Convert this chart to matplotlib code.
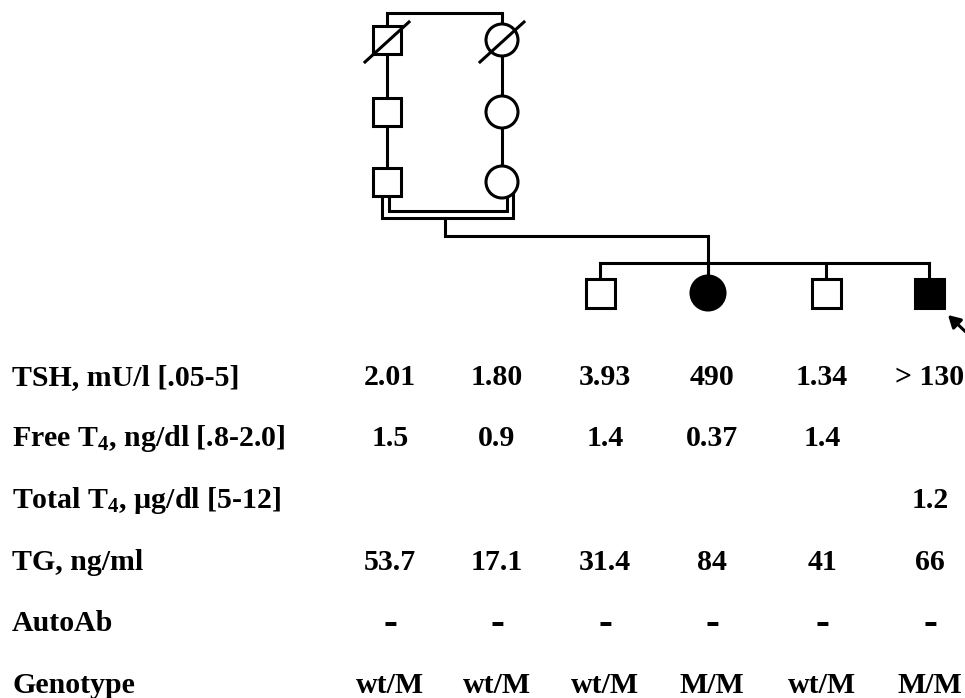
import matplotlib
matplotlib.use("Agg")
import matplotlib.pyplot as plt
from matplotlib.patches import Rectangle, Circle

plt.rcParams['font.family'] = 'Liberation Serif'
plt.rcParams['font.weight'] = 'bold'
plt.rcParams['mathtext.fontset'] = 'custom'
plt.rcParams['mathtext.rm'] = 'Liberation Serif:bold'
plt.rcParams['mathtext.it'] = 'Liberation Serif:bold:italic'
plt.rcParams['mathtext.bf'] = 'Liberation Serif:bold'

''' DATOS '''
row_labels = ["TSH, mU/l [.05-5]",
              "Free T$_4$, ng/dl [.8-2.0]",
              "Total T$_4$, \u00b5g/dl [5-12]",
              "TG, ng/ml",
              "AutoAb",
              "Genotype"]
tsh = ["2.01", "1.80", "3.93", "490", "1.34", "> 130"]
free_t4 = ["1.5", "0.9", "1.4", "0.37", "1.4", ""]
total_t4 = ["", "", "", "", "", "1.2"]
tg = ["53.7", "17.1", "31.4", "84", "41", "66"]
autoab = ["-", "-", "-", "-", "-", "-"]
genotype = ["wt/M", "wt/M", "wt/M", "M/M", "wt/M", "M/M"]
filas = [tsh, free_t4, total_t4, tg, autoab, genotype]

# Pedigree: two ancestral lines (male / female), three generations each
linea_sexo = ["m", "f"]
linea_fallecido = [True, False, False]
# Children of the consanguineous couple
hijos_sexo = ["m", "f", "m", "m"]
hijos_afectado = [False, True, False, True]
caso_indice = 3

''' LAYOUT (pixels) '''
W, H = 965, 698
col_x = [390, 497, 605, 712, 822, 930]
fila_y = [385, 446, 508, 570, 631, 693]
label_x = 12
fs = 21.5
lw = 2.2

linea_x = [387, 502]
gen_y = [40, 112, 182]
hijos_x = [600, 708, 826, 929]
hijos_y = 293
sq = 28
rad = 16

fig = plt.figure(figsize=(W / 100, H / 100), dpi=100)
ax = fig.add_axes([0, 0, 1, 1])
ax.set_xlim(0, W)
ax.set_ylim(H, 0)
ax.axis("off")


def individuo(x, y, sexo, afectado=False, fallecido=False, size=sq, r=rad):
    color = "black" if afectado else "white"
    if sexo == "m":
        p = Rectangle((x - size / 2, y - size / 2), size, size,
                      facecolor=color, edgecolor="black", lw=lw, zorder=3)
    else:
        p = Circle((x, y), r, facecolor=color, edgecolor="black", lw=lw, zorder=3)
    ax.add_patch(p)
    if fallecido:
        ax.plot([x - 22, x + 22], [y + 22, y - 18], color="black", lw=lw, zorder=4)


def linea(xs, ys):
    ax.plot(xs, ys, color="black", lw=lw, zorder=2, solid_capstyle="projecting",
            solid_joinstyle="miter")


# Ancestral lines
linea([linea_x[0], linea_x[0], linea_x[1], linea_x[1]], [gen_y[0], 13, 13, gen_y[0]])
for lx, sexo in zip(linea_x, linea_sexo):
    linea([lx, lx], [gen_y[0], gen_y[-1]])
    for gy, fall in zip(gen_y, linea_fallecido):
        individuo(lx, gy, sexo, fallecido=fall)

# Consanguineous marriage (double line)
linea([382, 382, 513, 513], [gen_y[-1], 218, 218, gen_y[-1]])
linea([389, 389, 507, 507], [gen_y[-1], 211, 211, gen_y[-1]])

# Descent line to sibship
linea([445, 445, hijos_x[1], hijos_x[1]], [218, 236, 236, hijos_y])
linea([hijos_x[0], hijos_x[-1]], [263, 263])
for hx in hijos_x:
    linea([hx, hx], [263, hijos_y])
for hx, sexo, af in zip(hijos_x, hijos_sexo, hijos_afectado):
    individuo(hx, hijos_y, sexo, afectado=af, size=29, r=17)

# Index case arrow
ax.annotate("", xy=(hijos_x[caso_indice] + 19, hijos_y + 22),
            xytext=(hijos_x[caso_indice] + 42, hijos_y + 44),
            arrowprops=dict(arrowstyle="-|>,head_length=0.3,head_width=0.17",
                            lw=lw, color="black", mutation_scale=24,
                            shrinkA=0, shrinkB=0))

# Table
for y, lab, valores in zip(fila_y, row_labels, filas):
    ax.text(label_x, y, lab, fontsize=fs, fontweight="bold", ha="left", va="baseline")
    for x, v in zip(col_x, valores):
        if not v:
            continue
        if v == "-":
            ax.text(x, y + 3, v, fontsize=30, fontweight="bold", ha="center", va="baseline")
        else:
            ax.text(x, y, v, fontsize=fs, fontweight="bold", ha="center", va="baseline")

plt.savefig("out.png", dpi=100, facecolor="white")
plt.close()
